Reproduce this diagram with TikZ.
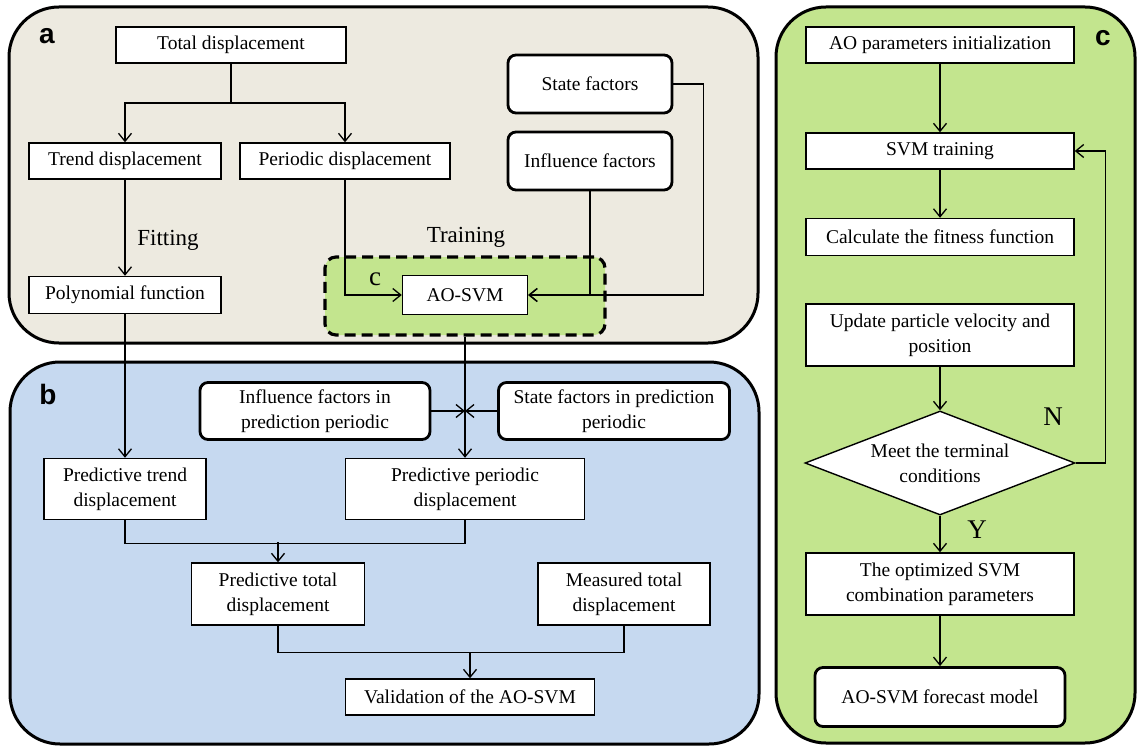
\documentclass[tikz,border=0pt]{standalone}
\usepackage{fontspec}
\setmainfont{Liberation Serif}
\setsansfont{Liberation Sans}
\usetikzlibrary{arrows.meta,shapes.geometric}
\definecolor{panelA}{RGB}{237,234,224}
\definecolor{panelB}{RGB}{198,217,240}
\definecolor{panelC}{RGB}{195,229,142}
\begin{document}
\begin{tikzpicture}[x=1pt,y=-1pt,
  txt/.style={font=\fontsize{19.5}{25}\selectfont},
  box/.style={txt,draw,line width=1.4pt,fill=white,inner sep=0pt,align=center},
  rbox/.style={box,rounded corners=8pt,line width=2.8pt},
  conn/.style={line width=1.3pt},
  arr/.style={conn,-{Straight Barb[length=8pt,width=13pt,line width=1.3pt]}},
  panel/.style={draw,line width=3pt,rounded corners=50pt},
  plab/.style={font=\fontsize{28}{28}\sffamily\bfseries\selectfont},
  elab/.style={font=\fontsize{23}{23}\selectfont}]
\useasboundingbox (0,0) rectangle (1137,746);

% panels
\path[panel,fill=panelA] (9,7) rectangle (758,343);
\path[panel,fill=panelB] (10,362) rectangle (759,744);
\path[panel,fill=panelC] (776,7) rectangle (1135,743);

\node[plab] (la) at (47,36) {a};
\node[plab] (lb) at (48,394) {b};
\node[plab] (lc) at (1103,38) {c};

% panel a
\node[draw,dashed,dash pattern=on 11pt off 6pt,line width=3.2pt,fill=panelC,rounded corners=11pt,
      minimum width=280pt,minimum height=78pt] (cbox) at (465,296) {};
\node[font=\fontsize{27}{27}\selectfont] (cl) at (375,279) {c};

\node[box,minimum width=230pt,minimum height=36pt] (total) at (231,45) {Total displacement};
\node[box,minimum width=192pt,minimum height=36pt] (trend) at (125,161) {Trend displacement};
\node[box,minimum width=210pt,minimum height=36pt] (periodic) at (345,161) {Periodic displacement};
\node[box,minimum width=192pt,minimum height=37pt] (poly) at (125,295) {Polynomial function};
\node[box,minimum width=125pt,minimum height=39pt] (aosvm) at (465,295) {AO-SVM};
\node[rbox,minimum width=164pt,minimum height=58pt] (state) at (590,84) {State factors};
\node[rbox,minimum width=164pt,minimum height=58pt] (infl) at (590,161) {Influence factors};
\node[elab] (fit) at (168,240) {Fitting};
\node[elab] (train) at (466,237) {Training};

\coordinate (split) at (231,103);
\draw[conn] (total.south) -- (split);
\draw[arr] (split) -| (trend.north);
\draw[arr] (split) -| (periodic.north);
\draw[arr] (trend.south) -- (poly.north);
\draw[arr] (periodic.south) |- (aosvm.west);
\draw[arr] (infl.south) |- (aosvm.east);
\draw[arr] (state.east) -- ++(30,0) |- (aosvm.east);

% panel b
\node[rbox,minimum width=230pt,minimum height=57pt] (ifp) at (315,411) {Influence factors in\\prediction periodic};
\node[rbox,minimum width=231pt,minimum height=57pt] (sfp) at (614,411) {State factors in prediction\\periodic};
\node[box,minimum width=162pt,minimum height=61pt] (ptd) at (125,489) {Predictive trend\\displacement};
\node[box,minimum width=239pt,minimum height=61pt] (ppd) at (465,489) {Predictive periodic\\displacement};
\node[box,minimum width=173pt,minimum height=62pt] (ptot) at (278,594) {Predictive total\\displacement};
\node[box,minimum width=172pt,minimum height=62pt] (mtot) at (624,594) {Measured total\\displacement};
\node[box,minimum width=249pt,minimum height=36pt] (valid) at (470,697) {Validation of the AO-SVM};

\coordinate (jn) at (465,411);
\draw[arr] (cbox.south) -- (ppd.north);
\draw[arr] (ifp.east) -- (jn);
\draw[arr] (sfp.west) -- (jn);
\draw[arr] (poly.south) -- (ptd.north);
\draw[conn] (ptd.south) -- ++(0,23) -| (ppd.south);
\coordinate (m1) at (278,542);
\draw[arr] (m1) -- (ptot.north);
\draw[conn] (ptot.south) -- ++(0,27) -| (mtot.south);
\coordinate (m2) at (470,652);
\draw[arr] (m2) -- (valid.north);

% panel c
\node[box,minimum width=268pt,minimum height=36pt] (init) at (940,45) {AO parameters initialization};
\node[box,minimum width=268pt,minimum height=36pt] (svm) at (940,151) {SVM training};
\node[box,minimum width=268pt,minimum height=37pt] (fitn) at (940,237) {Calculate the fitness function};
\node[box,minimum width=268pt,minimum height=62pt] (upd) at (940,335) {Update particle velocity and\\position};
\node[box,shape=diamond,aspect=2.6,inner sep=-12pt,minimum width=270pt,minimum height=104pt] (dia) at (940,463) {Meet the terminal\\conditions};
\node[box,minimum width=268pt,minimum height=62pt] (opt) at (940,584) {The optimized SVM\\combination parameters};
\node[rbox,minimum width=250pt,minimum height=59pt] (fore) at (940,697) {AO-SVM forecast model};
\node[font=\fontsize{27}{27}\selectfont] (nl) at (1053,417) {N};
\node[font=\fontsize{27}{27}\selectfont] (yl) at (977,530) {Y};

\draw[arr] (init) -- (svm);
\draw[arr] (svm) -- (fitn);
\draw[arr] (upd) -- (dia);
\draw[arr] (dia) -- (opt);
\draw[arr] (opt) -- (fore);
\draw[arr] (dia.east) -- ++(30,0) |- (svm.east);
\end{tikzpicture}
\end{document}
